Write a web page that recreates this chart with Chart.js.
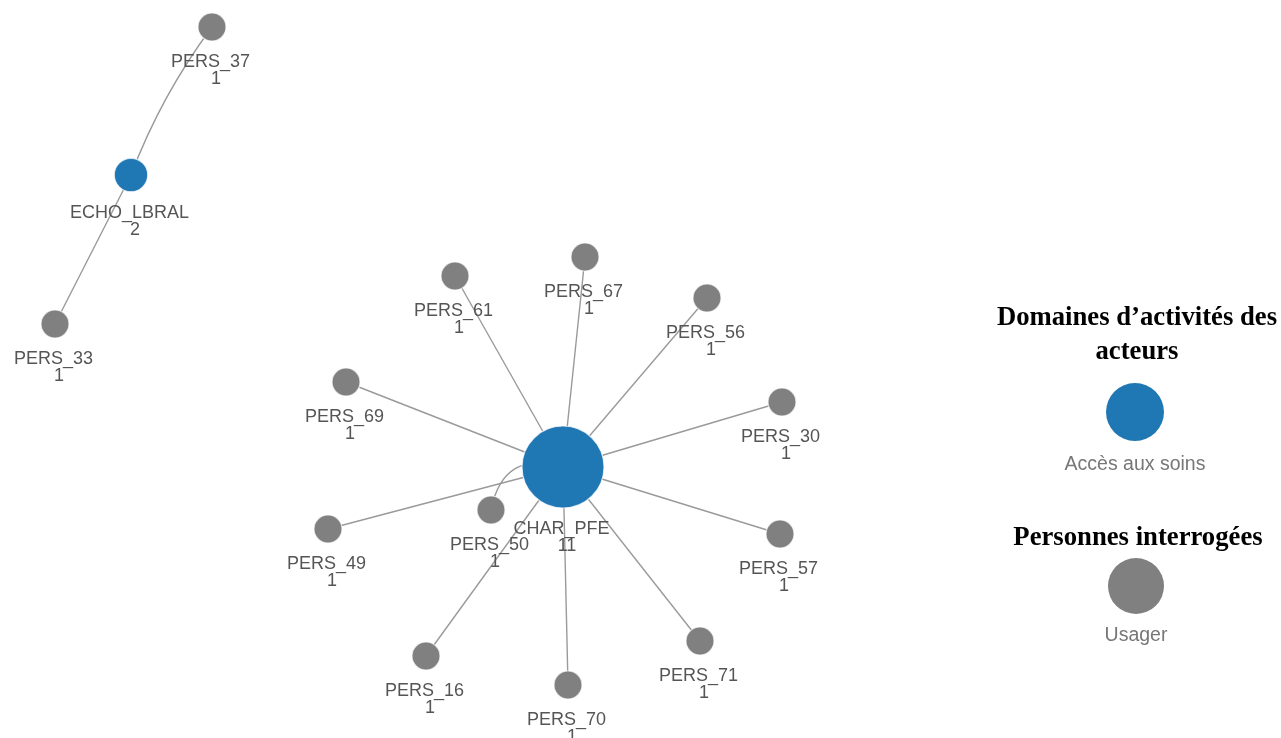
<!DOCTYPE html>
<html lang="fr">
<head>
<meta charset="utf-8">
<title>Réseau des acteurs</title>
<script src="https://cdn.jsdelivr.net/npm/chart.js@4/dist/chart.umd.min.js"></script>
<style>
  html, body { margin: 0; padding: 0; background: #fff; }
  #wrap { position: relative; width: 1281px; height: 738px; overflow: hidden; }
  #net { position: absolute; left: 0; top: 0; }
  .lg-title { position: absolute; width: 320px; text-align: center; font-family: 'Liberation Serif', 'DejaVu Serif', serif;
    font-weight: bold; font-size: 26.7px; line-height: 34px; color: #000; white-space: nowrap; }
  .lg-dot { position: absolute; border-radius: 50%; }
  .lg-label { position: absolute; width: 200px; text-align: center; font-family: 'Liberation Sans', Arial, sans-serif;
    font-size: 19.5px; line-height: 22px; color: #777; }
</style>
</head>
<body>
<div id="wrap">
  <canvas id="net" width="1281" height="738"></canvas>
  <div class="lg-title" style="left:977px; top:299px;">Domaines d’activités des<br>acteurs</div>
  <div class="lg-dot" style="left:1106px; top:383px; width:58px; height:58px; background:#1f77b4;"></div>
  <div class="lg-label" style="left:1035px; top:452px;">Accès aux soins</div>
  <div class="lg-title" style="left:978px; top:519px;">Personnes interrogées</div>
  <div class="lg-dot" style="left:1108px; top:558px; width:56px; height:56px; background:#808080;"></div>
  <div class="lg-label" style="left:1036px; top:623px;">Usager</div>
</div>
<script>
// Nodes of the network (layout coordinates, same units as the page).
const nodeNames = ['PERS_37', 'ECHO_LBRAL', 'PERS_33', 'CHAR_PFE', 'PERS_61', 'PERS_67', 'PERS_56',
  'PERS_69', 'PERS_30', 'PERS_49', 'PERS_50', 'PERS_57', 'PERS_16', 'PERS_70', 'PERS_71'];
const nodeX = [212, 131, 55, 563, 455, 585, 707, 346, 782, 328, 491, 780, 426, 568, 700];
const nodeY = [27, 175, 324, 467, 276, 257, 298, 382, 402, 529, 510, 534, 656, 685, 641];
const nodeCounts = [1, 2, 1, 11, 1, 1, 1, 1, 1, 1, 1, 1, 1, 1, 1];
const nodeGroups = ['Usager', 'Accès aux soins', 'Usager', 'Accès aux soins', 'Usager', 'Usager', 'Usager',
  'Usager', 'Usager', 'Usager', 'Usager', 'Usager', 'Usager', 'Usager', 'Usager'];

// Links between nodes; bend > 0 curves the link to one side.
const edgeSource = ['ECHO_LBRAL', 'ECHO_LBRAL', 'CHAR_PFE', 'CHAR_PFE', 'CHAR_PFE', 'CHAR_PFE', 'CHAR_PFE',
  'CHAR_PFE', 'CHAR_PFE', 'CHAR_PFE', 'CHAR_PFE', 'CHAR_PFE', 'CHAR_PFE'];
const edgeTarget = ['PERS_37', 'PERS_33', 'PERS_61', 'PERS_67', 'PERS_56', 'PERS_69', 'PERS_30',
  'PERS_49', 'PERS_50', 'PERS_57', 'PERS_16', 'PERS_70', 'PERS_71'];
const edgeBend = [-0.07, 0, 0, 0, 0, 0, 0, 0, 0.55, 0, 0, 0, 0];

const groupColors = { 'Accès aux soins': '#1f77b4', 'Usager': '#808080' };
const radiusOf = c => 14 + 2.7 * (c - 1);

const idx = name => nodeNames.indexOf(name);

// Links go under the nodes, drawn through the chart scales.
const edgePlugin = {
  id: 'edges',
  beforeDatasetsDraw(chart) {
    const { ctx, scales: { x, y } } = chart;
    ctx.save();
    ctx.strokeStyle = '#9a9a9a';
    ctx.lineWidth = 1.4;
    edgeSource.forEach((s, i) => {
      const a = idx(s), b = idx(edgeTarget[i]);
      const x1 = x.getPixelForValue(nodeX[a]), y1 = y.getPixelForValue(nodeY[a]);
      const x2 = x.getPixelForValue(nodeX[b]), y2 = y.getPixelForValue(nodeY[b]);
      const dx = x2 - x1, dy = y2 - y1;
      const cx = (x1 + x2) / 2 - dy * edgeBend[i];
      const cy = (y1 + y2) / 2 + dx * edgeBend[i];
      ctx.beginPath();
      ctx.moveTo(x1, y1);
      ctx.quadraticCurveTo(cx, cy, x2, y2);
      ctx.stroke();
    });
    ctx.restore();
  },
};

// Name and count under each node.
const labelPlugin = {
  id: 'nodeLabels',
  afterDatasetsDraw(chart) {
    const { ctx, scales: { x, y } } = chart;
    ctx.save();
    ctx.fillStyle = '#555';
    ctx.font = "18px 'Liberation Sans', Arial, sans-serif";
    ctx.textAlign = 'center';
    ctx.textBaseline = 'middle';
    nodeNames.forEach((n, i) => {
      const r = radiusOf(nodeCounts[i]);
      const px = x.getPixelForValue(nodeX[i]);
      const py = y.getPixelForValue(nodeY[i]);
      ctx.fillText(n, px - 1.5, py + r + 21.5);
      ctx.fillText(String(nodeCounts[i]), px + 4, py + r + 38.5);
    });
    ctx.restore();
  },
};

new Chart(document.getElementById('net'), {
  type: 'scatter',
  data: {
    datasets: [{
      data: nodeNames.map((n, i) => ({ x: nodeX[i], y: nodeY[i] })),
      pointRadius: nodeCounts.map(radiusOf),
      backgroundColor: nodeGroups.map(g => groupColors[g]),
      borderColor: 'rgba(255,255,255,0.7)',
      borderWidth: 1.2,
    }],
  },
  options: {
    responsive: false,
    animation: false,
    events: [],
    layout: { padding: 0, autoPadding: false },
    plugins: { legend: { display: false }, tooltip: { enabled: false } },
    scales: {
      x: { type: 'linear', min: 0, max: 1281, display: false },
      y: { type: 'linear', min: 0, max: 738, reverse: true, display: false },
    },
  },
  plugins: [edgePlugin, labelPlugin],
});
</script>
</body>
</html>
